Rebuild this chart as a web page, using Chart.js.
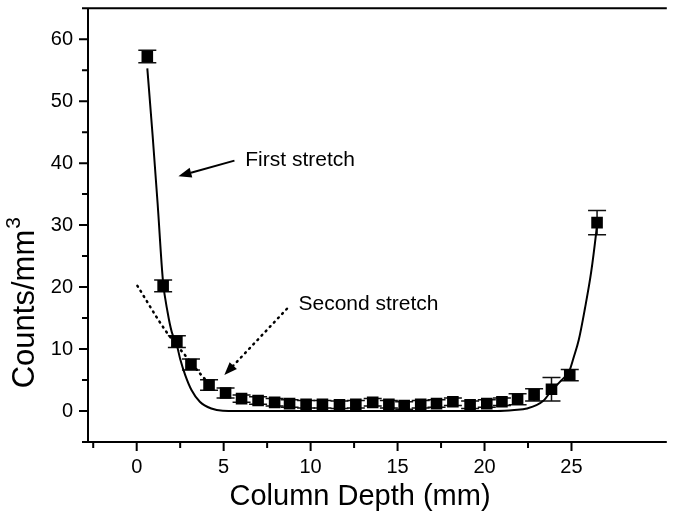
<!DOCTYPE html>
<html>
<head>
<meta charset="utf-8">
<script src="https://cdn.jsdelivr.net/npm/chart.js@4"></script>
<style>
  html, body { margin: 0; padding: 0; background: #fff; }
  #wrap { width: 675px; height: 522px; }
</style>
</head>
<body>
<div id="wrap"><canvas id="depthChart" width="675" height="522"></canvas></div>
<script>
// measured counts along the column (mm, counts/mm^3)
const depth = [0.61, 1.52, 2.31, 3.12, 4.16, 5.11, 6.03, 6.98, 7.93, 8.79, 9.74, 10.68, 11.66, 12.60,
  13.57, 14.50, 15.38, 16.33, 17.24, 18.18, 19.17, 20.13, 21.00, 21.90, 22.85, 23.85, 24.90, 26.47];
const counts = [57.2, 20.2, 11.2, 7.5, 4.2, 2.9, 2.0, 1.7, 1.4, 1.2, 1.1, 1.1, 1.0, 1.1,
  1.4, 1.1, 0.9, 1.1, 1.2, 1.5, 1.0, 1.2, 1.5, 1.9, 2.6, 3.5, 5.8, 30.4];
const countErr = [1.0, 0.95, 0.95, 0.9, 0.85, 0.8, 0.6, 0.6, 0.6, 0.6, 0.6, 0.6, 0.6, 0.6,
  0.6, 0.6, 0.6, 0.6, 0.6, 0.6, 0.6, 0.6, 0.6, 0.9, 1.0, 1.9, 0.9, 1.95];

// solid fit curve
const fitX = [0.61, 0.92, 1.20, 1.51, 1.78, 2.02, 2.31, 2.50, 2.79, 3.15, 3.63, 4.29, 4.95,
  6.7, 11.2, 15.6, 20.7, 21.71, 22.44, 23.40, 23.85, 24.40, 24.88, 25.12, 25.42, 25.77, 26.13, 26.42, 26.47];
const fitY = [55.3, 44.3, 33.6, 21.0, 15.9, 12.7, 10.6, 8.4, 5.8, 3.4, 1.5, 0.4, 0.05,
  0, 0, 0, 0, 0.15, 0.4, 1.7, 3.3, 4.9, 6.5, 8.6, 11.5, 16.5, 22.4, 28.8, 30.1];

// dotted "second stretch" curve
const fit2X = [0.04, 1.65, 2.87, 3.81, 4.16];
const fit2Y = [20.2, 13.0, 8.7, 5.5, 4.5];

// axis ticks
const xTicks = [-2.5, 0, 2.5, 5, 7.5, 10, 12.5, 15, 17.5, 20, 22.5, 25];
const yTicks = [-5, 0, 5, 10, 15, 20, 25, 30, 35, 40, 45, 50, 55, 60, 65];

const FONT = 'Liberation Sans, Arial, Helvetica, sans-serif';
Chart.defaults.font.family = FONT;
Chart.defaults.color = '#000';

const pts = (xs, ys) => xs.map((v, i) => ({ x: v, y: ys[i] }));

const notes = [
  { text: 'First stretch', at: [6.24, 40.4], from: [5.62, 40.4], to: [2.40, 37.9], dotted: false },
  { text: 'Second stretch', at: [9.30, 17.3], from: [8.64, 16.5], to: [5.04, 5.8], dotted: true }
];

const errorBars = {
  id: 'errorBars',
  beforeDatasetsDraw(chart) {
    const { ctx, scales: { x, y } } = chart;
    ctx.save();
    ctx.strokeStyle = '#111';
    ctx.lineWidth = 1.5;
    depth.forEach((d, i) => {
      const px = x.getPixelForValue(d);
      const top = y.getPixelForValue(counts[i] + countErr[i]);
      const bot = y.getPixelForValue(counts[i] - countErr[i]);
      ctx.beginPath();
      ctx.moveTo(px, top); ctx.lineTo(px, bot);
      ctx.moveTo(px - 9, top); ctx.lineTo(px + 9, top);
      ctx.moveTo(px - 9, bot); ctx.lineTo(px + 9, bot);
      ctx.stroke();
    });
    ctx.restore();
  }
};

const drawArrow = (ctx, x1, y1, x2, y2, dotted) => {
  const ang = Math.atan2(y2 - y1, x2 - x1);
  const headLen = 13, headW = 5;
  const bx = x2 - Math.cos(ang) * headLen, by = y2 - Math.sin(ang) * headLen;
  ctx.save();
  ctx.strokeStyle = '#000';
  ctx.fillStyle = '#000';
  ctx.lineWidth = dotted ? 2.5 : 2;
  if (dotted) { ctx.setLineDash([1, 5]); ctx.lineCap = 'round'; }
  ctx.beginPath();
  ctx.moveTo(x1, y1); ctx.lineTo(bx, by);
  ctx.stroke();
  ctx.setLineDash([]);
  ctx.beginPath();
  ctx.moveTo(x2, y2);
  ctx.lineTo(bx + Math.sin(ang) * headW, by - Math.cos(ang) * headW);
  ctx.lineTo(bx - Math.sin(ang) * headW, by + Math.cos(ang) * headW);
  ctx.closePath();
  ctx.fill();
  ctx.restore();
};

const annotations = {
  id: 'annotations',
  afterDatasetsDraw(chart) {
    const { ctx, scales: { x, y } } = chart;
    notes.forEach(n => {
      drawArrow(ctx, x.getPixelForValue(n.from[0]), y.getPixelForValue(n.from[1]),
        x.getPixelForValue(n.to[0]), y.getPixelForValue(n.to[1]), n.dotted);
      ctx.save();
      ctx.font = '21px ' + FONT;
      ctx.fillStyle = '#000';
      ctx.textBaseline = 'middle';
      ctx.fillText(n.text, x.getPixelForValue(n.at[0]), y.getPixelForValue(n.at[1]));
      ctx.restore();
    });
  }
};

const axisFrame = {
  id: 'axisFrame',
  afterDraw(chart) {
    const { ctx, chartArea: a, scales: { x, y } } = chart;
    ctx.save();
    ctx.strokeStyle = '#000';
    ctx.lineWidth = 2;
    ctx.beginPath();
    ctx.moveTo(a.left, a.top); ctx.lineTo(a.left, a.bottom); ctx.lineTo(a.right, a.bottom);
    ctx.moveTo(a.left, a.top); ctx.lineTo(a.right, a.top);
    x.ticks.forEach(t => {
      const px = x.getPixelForValue(t.value);
      ctx.moveTo(px, a.bottom); ctx.lineTo(px, a.bottom + (t.label ? 9 : 6));
    });
    y.ticks.forEach(t => {
      const py = y.getPixelForValue(t.value);
      ctx.moveTo(a.left, py); ctx.lineTo(a.left - (t.label ? 9 : 6), py);
    });
    ctx.stroke();

    ctx.fillStyle = '#000';
    ctx.textBaseline = 'middle';

    // x title, centred a little left of the plot middle like the original
    ctx.font = '29px ' + FONT;
    ctx.textAlign = 'center';
    ctx.fillText('Column Depth (mm)', a.left + (a.right - a.left) * 0.47, 497);

    // y title sits below the middle of the axis
    ctx.translate(25, a.top + (a.bottom - a.top) * 0.68);
    ctx.rotate(-Math.PI / 2);
    const main = 'Counts/mm';
    ctx.font = '31px ' + FONT;
    const w1 = ctx.measureText(main).width;
    ctx.font = '21px ' + FONT;
    const w2 = ctx.measureText('3').width;
    ctx.textAlign = 'left';
    ctx.font = '31px ' + FONT;
    ctx.fillText(main, -(w1 + w2) / 2, 0);
    ctx.font = '21px ' + FONT;
    ctx.fillText('3', -(w1 + w2) / 2 + w1 + 1, -11);
    ctx.restore();
  }
};

new Chart(document.getElementById('depthChart'), {
  type: 'scatter',
  data: {
    datasets: [
      {
        label: 'Counts',
        data: pts(depth, counts),
        pointStyle: 'rect',
        pointRadius: 8.2,
        backgroundColor: '#000',
        borderWidth: 0,
        order: 0
      },
      {
        type: 'line',
        label: 'First stretch fit',
        data: pts(fitX, fitY),
        borderColor: '#000',
        borderWidth: 2,
        pointRadius: 0,
        cubicInterpolationMode: 'monotone',
        fill: false,
        order: 1
      },
      {
        type: 'line',
        label: 'Second stretch fit',
        data: pts(fit2X, fit2Y),
        borderColor: '#000',
        borderWidth: 2.5,
        borderDash: [1, 5],
        borderCapStyle: 'round',
        pointRadius: 0,
        cubicInterpolationMode: 'monotone',
        fill: false,
        order: 2
      }
    ]
  },
  options: {
    responsive: false,
    animation: false,
    devicePixelRatio: 1,
    layout: { padding: { top: 6, right: 0, left: 0, bottom: 0 } },
    plugins: { legend: { display: false }, tooltip: { enabled: false } },
    scales: {
      x: {
        type: 'linear',
        min: -2.8,
        max: 30.48,
        grid: { display: false, drawTicks: false },
        border: { display: false },
        afterBuildTicks: s => { s.ticks = xTicks.map(v => ({ value: v })); },
        afterFit: s => { s.height = 80; s.paddingLeft = 0; s.paddingRight = 0; },
        ticks: {
          font: { size: 20 },
          padding: 13,
          maxRotation: 0,
          autoSkip: false,
          callback: v => (v % 5 === 0 ? String(v) : '')
        }
      },
      y: {
        type: 'linear',
        min: -5,
        max: 65,
        grid: { display: false, drawTicks: false },
        border: { display: false },
        afterBuildTicks: s => { s.ticks = yTicks.map(v => ({ value: v })); },
        afterFit: s => { s.width = 88; s.paddingTop = 0; s.paddingBottom = 0; },
        ticks: {
          font: { size: 20 },
          padding: 15,
          autoSkip: false,
          callback: v => (v % 10 === 0 && v >= 0 ? String(v) : '')
        }
      }
    }
  },
  plugins: [errorBars, annotations, axisFrame]
});
</script>
</body>
</html>
